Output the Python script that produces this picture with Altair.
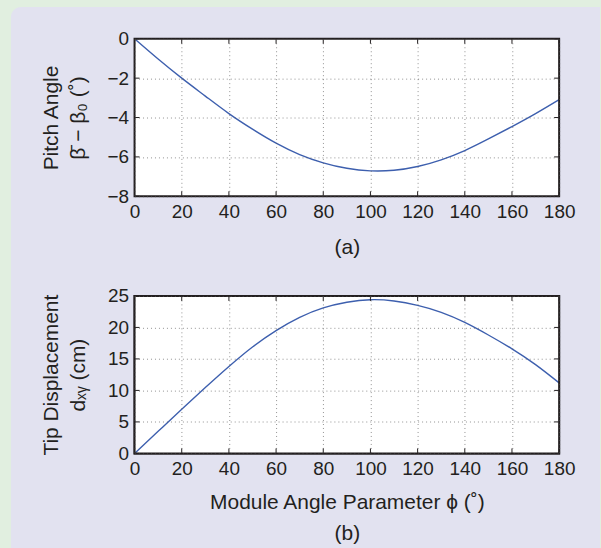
import altair as alt
import pandas as pd

phi = [0, 10, 20, 30, 40, 50, 60, 70, 80, 90, 100, 110, 120, 130, 140, 150, 160, 170, 180]
pitch = [0, -1.03, -2.0, -2.91, -3.80, -4.59, -5.30, -5.88, -6.30, -6.58, -6.71, -6.68, -6.49, -6.15, -5.68, -5.09, -4.46, -3.80, -3.09]
disp = [0, 3.5, 7.0, 10.45, 13.8, 16.9, 19.5, 21.6, 23.1, 24.0, 24.4, 24.2, 23.5, 22.4, 20.8, 18.8, 16.6, 14.1, 11.2]

x_ticks = [0, 20, 40, 60, 80, 100, 120, 140, 160, 180]
pitch_ticks = [0, -2, -4, -6, -8]
disp_ticks = [0, 5, 10, 15, 20, 25]

df = pd.DataFrame({"phi": phi, "pitch": pitch, "disp": disp})
xt = pd.DataFrame({"phi": x_ticks})
one = pd.DataFrame({"k": [0]})

FONT = "Liberation Sans"
LINE = "#3d5fae"
INK = "#231f20"
PANEL = "#e2e2f0"
OUTER = "#e1efe0"
W, H, TL = 426, 158, 5
PLOT_LEFT, PLOT_TOP, GAP = 134, 37, 100

def xaxis(title, tpad):
    return alt.Axis(values=x_ticks, title=title, grid=True, ticks=False, domain=False,
                    labelFlush=False, labelOverlap=False, labelPadding=6,
                    titlePadding=tpad, titleLineHeight=31, zindex=1)

def yaxis(values, title):
    return alt.Axis(values=values, title=title, grid=True, ticks=False, domain=False,
                    labelPadding=6, titlePadding=19, titleLineHeight=27, zindex=1)

def panel(field, dom, yticks, ytitle, xtitle, xpad, backdrop=False):
    xs = alt.Scale(domain=[0, 180], nice=False)
    ys = alt.Scale(domain=dom, nice=False)
    xa = xaxis(xtitle, xpad)
    ya = yaxis(yticks, ytitle)
    layers = []
    if backdrop:
        # lavender rounded panel behind the whole figure
        layers.append(alt.Chart(one).mark_rect(color=PANEL, cornerRadiusTopLeft=10).encode(
            x=alt.value(10 - PLOT_LEFT), x2=alt.value(601 - PLOT_LEFT),
            y=alt.value(5 - PLOT_TOP), y2=alt.value(548 - PLOT_TOP)))
    layers.append(alt.Chart(one).mark_rect(color="white").encode(
        x=alt.value(0), x2=alt.value(W), y=alt.value(0), y2=alt.value(H)))
    line = alt.Chart(df).mark_line(color=LINE, strokeWidth=1.4, interpolate="natural").encode(
        x=alt.X("phi:Q", scale=xs, axis=xa),
        y=alt.Y(f"{field}:Q", scale=ys, axis=ya),
    )
    yt = pd.DataFrame({field: yticks})
    # inward ticks (MATLAB style) on all four sides
    bt = alt.Chart(xt).mark_rule(color=INK, strokeWidth=1).encode(
        x=alt.X("phi:Q", scale=xs, axis=xa), y=alt.value(H), y2=alt.value(H - TL))
    tt = alt.Chart(xt).mark_rule(color=INK, strokeWidth=1).encode(
        x=alt.X("phi:Q", scale=xs, axis=xa), y=alt.value(0), y2=alt.value(TL))
    lt = alt.Chart(yt).mark_rule(color=INK, strokeWidth=1).encode(
        y=alt.Y(f"{field}:Q", scale=ys, axis=ya), x=alt.value(0), x2=alt.value(TL))
    rt = alt.Chart(yt).mark_rule(color=INK, strokeWidth=1).encode(
        y=alt.Y(f"{field}:Q", scale=ys, axis=ya), x=alt.value(W), x2=alt.value(W - TL))
    frame = alt.Chart(one).mark_rect(fillOpacity=0, stroke=INK, strokeWidth=2).encode(
        x=alt.value(0), x2=alt.value(W), y=alt.value(0), y2=alt.value(H))
    layers += [line, bt, tt, lt, rt, frame]
    return alt.layer(*layers).properties(width=W, height=H)

top = panel("pitch", [-8, 0], pitch_ticks, ["Pitch Angle", "β̄ − β₀ (˚)"], "(a)", 15,
            backdrop=True)
bottom = panel("disp", [0, 25], disp_ticks, ["Tip Displacement", "dₓᵧ (cm)"],
               ["Module Angle Parameter ϕ  (˚)", "(b)"], 13)

chart = alt.vconcat(top, bottom, spacing=GAP, bounds="flush").properties(
    background=OUTER,
    padding={"left": 10, "top": 5, "right": 0, "bottom": 0},
).configure_view(
    fill="white", stroke=INK, strokeWidth=2
).configure_axis(
    labelFont=FONT, titleFont=FONT, labelFontSize=19, titleFontSize=21,
    labelColor=INK, titleColor=INK, titleFontWeight="normal",
    gridColor="#555555", gridDash=[1, 3], gridWidth=0.8, gridOpacity=0.8,
)

chart.save("out.html", embed_options={"renderer": "svg", "actions": False})
